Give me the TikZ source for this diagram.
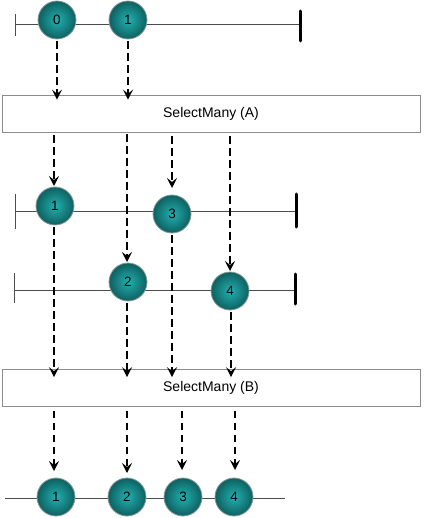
\documentclass[tikz,border=0pt]{standalone}
\usepackage{fontspec}
\setmainfont{Liberation Sans}
\usetikzlibrary{arrows.meta}
\definecolor{tealin}{HTML}{22B0B0}
\definecolor{tealout}{HTML}{0E6060}
\definecolor{ringgray}{HTML}{8A9A9A}
\begin{document}
\begin{tikzpicture}[x=1pt,y=-1pt,
  marble/.style={circle,minimum size=38pt,inner sep=0pt,draw=ringgray,line width=0.8pt,
    inner color=tealin,outer color=tealout,font=\fontsize{13.5}{15}\selectfont},
  opbox/.style={draw=black!45,line width=0.6pt,fill=white,minimum width=418pt,minimum height=37pt,
    inner sep=0pt,font=\fontsize{14}{16}\selectfont},
  tline/.style={draw=black!70,line width=0.8pt},
  starttick/.style={draw=black!70,line width=0.8pt},
  endbar/.style={draw=black,line width=3pt,line cap=round},
  flow/.style={draw=black,line width=1.7pt,dash pattern=on 7.5pt off 4.5pt,
    -{Stealth[length=10pt,width=10pt,inset=4pt]}}]
\useasboundingbox (0,0) rectangle (425,518);

% row 1
\coordinate (s1) at (15,24);
\coordinate (e1) at (300,24);
\draw[tline] (s1) -- (e1);
\draw[starttick] (15,14) -- (15,36);
\draw[endbar] (300,11) -- (300,41);
\node[marble] (a0) at (57,20) {0};
\node[marble] (a1) at (128,20) {1};

% box A
\node[opbox] (A) at (211,113.5) {SelectMany (A)};

% row 2
\coordinate (s2) at (15,211);
\coordinate (e2) at (296,211);
\draw[tline] (s2) -- (e2);
\draw[starttick] (15,194) -- (15,229);
\draw[endbar] (296,194) -- (296,227);
\node[marble] (b1) at (55,206) {1};
\node[marble] (b3) at (172,214) {3};

% row 3
\coordinate (s3) at (14,290);
\coordinate (e3) at (295,290);
\draw[tline] (s3) -- (e3);
\draw[starttick] (14,273) -- (14,303);
\draw[endbar] (295,274) -- (295,304);

% arrows A -> row 3 drawn before marbles
\draw[flow] (A.south -| 127,0) ++(0,2) -- (127,262);
\draw[flow] (A.south -| 230,0) ++(0,4) -- (230,271);

\node[marble] (c2) at (128,282) {2};
\node[marble] (c4) at (230,291) {4};

% box B
\node[opbox] (B) at (211,388) {SelectMany (B)};

% row 4
\coordinate (s4) at (5,498);
\coordinate (e4) at (285,498);
\draw[tline] (s4) -- (e4);
\node[marble] (d1) at (56,497) {1};
\node[marble] (d2) at (127,497) {2};
\node[marble] (d3) at (183,497) {3};
\node[marble] (d4) at (234,497) {4};

% arrows row1 -> A
\draw[flow] ([yshift=-2pt]a0.south) -- ([yshift=-5pt]a0.south |- A.north);
\draw[flow] ([yshift=-2pt]a1.south) -- ([yshift=-5pt]a1.south |- A.north);

% arrows A -> row 2
\draw[flow] (A.south -| 54,0) ++(0,3) -- (54,186);
\draw[flow] (A.south -| 172,0) ++(0,4) -- (172,188);

% arrows rows -> B
\draw[flow] ([yshift=-2pt]b1.south -| 54,0) -- ([yshift=-8pt]B.north -| 54,0);
\draw[flow] ([yshift=-2pt]c2.south -| 127,0) -- ([yshift=-8pt]B.north -| 127,0);
\draw[flow] ([yshift=-2pt]b3.south) -- ([yshift=-8pt]B.north -| b3);
\draw[flow] ([yshift=-2pt]c4.south -| 231,0) -- ([yshift=-8pt]B.north -| 231,0);

% arrows B -> row 4
\draw[flow] (B.south -| 54,0) ++(0,4) -- (54,471);
\draw[flow] (B.south -| 127,0) ++(0,4) -- (127,473);
\draw[flow] (B.south -| 182,0) ++(0,4) -- (182,470);
\draw[flow] (B.south -| 235,0) ++(0,4) -- (235,470);
\end{tikzpicture}
\end{document}
